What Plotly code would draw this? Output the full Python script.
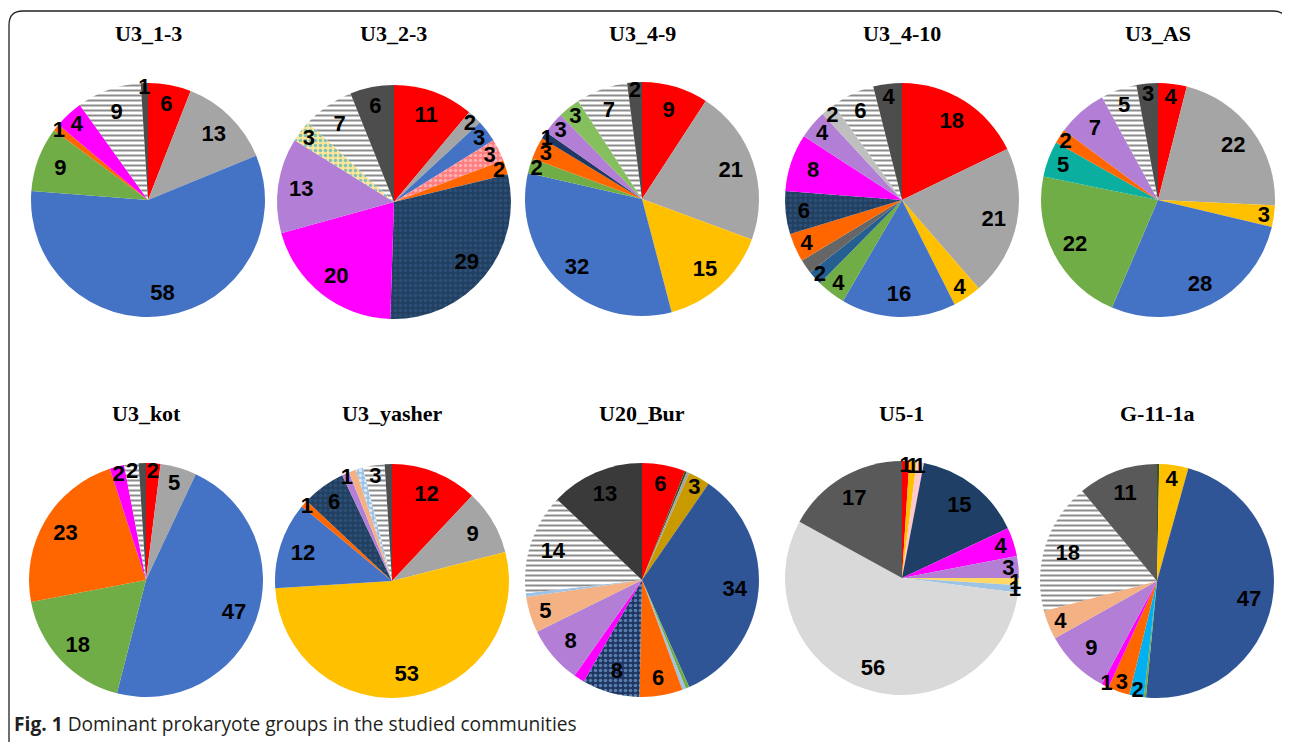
import plotly.graph_objects as go

PAGE_W, PAGE_H = 1290, 742
OFF = 8  # default page body margin
W, H = PAGE_W - OFF, PAGE_H - OFF

# ---------------- data (slices clockwise from 12 o'clock) ----------------
TITLES = ["U3_1-3", "U3_2-3", "U3_4-9", "U3_4-10", "U3_AS",
          "U3_kot", "U3_yasher", "U20_Bur", "U5-1", "G-11-1a"]

U3_1_3_groups = ["red", "gray", "blue", "green", "orange", "magenta", "stripes", "dkgray"]
U3_1_3_values = [6, 13, 58, 9, 1, 4, 9, 1]
U3_1_3_labels = ["6", "13", "58", "9", "1", "4", "9", "1"]

U3_2_3_groups = ["red", "gray", "blue", "pink_dot", "orange", "navy_dot", "magenta",
                 "purple", "ltyellow_dot", "stripes", "dkgray"]
U3_2_3_values = [11, 2, 3, 3, 2, 29, 20, 13, 3, 7, 6]
U3_2_3_labels = ["11", "2", "3", "3", "2", "29", "20", "13", "3", "7", "6"]

U3_4_9_groups = ["red", "gray", "yellow", "blue", "green", "orange", "navy", "purple",
                 "ltgreen", "stripes", "dkgray"]
U3_4_9_values = [9, 21, 15, 32, 2, 3, 1, 3, 3, 7, 2]
U3_4_9_labels = ["9", "21", "15", "32", "2", "3", "1", "3", "3", "7", "2"]

U3_4_10_groups = ["red", "gray", "yellow", "blue", "green", "dkblue", "midgray", "orange",
                  "navy_dot", "magenta", "purple", "silver", "stripes", "dkgray"]
U3_4_10_values = [18, 21, 4, 16, 4, 2, 2, 4, 6, 8, 4, 2, 6, 4]
U3_4_10_labels = ["18", "21", "4", "16", "4", "2", "", "4", "6", "8", "4", "2", "6", "4"]

U3_AS_groups = ["red", "gray", "yellow", "blue", "green", "teal", "orange", "purple",
                "stripes", "dkgray"]
U3_AS_values = [4, 22, 3, 28, 22, 5, 2, 7, 5, 3]
U3_AS_labels = ["4", "22", "3", "28", "22", "5", "2", "7", "5", "3"]

U3_kot_groups = ["red", "gray", "blue", "green", "orange", "magenta", "stripes", "dkgray"]
U3_kot_values = [2, 5, 47, 18, 23, 2, 2, 1]
U3_kot_labels = ["2", "5", "47", "18", "23", "2", "2", ""]

U3_yasher_groups = ["red", "gray", "yellow", "blue", "orange", "navy_dot", "purple", "peach",
                    "ltblue_dot", "stripes", "dkgray"]
U3_yasher_values = [12, 9, 53, 12, 1, 6, 1, 1, 1, 3, 1]
U3_yasher_labels = ["12", "9", "53", "12", "1", "6", "1", "", "", "3", ""]

U20_Bur_groups = ["red", "dkgreen", "gray", "gold", "cobalt", "green", "ltblue", "orange",
                  "navy_dot2", "magenta", "purple", "peach", "ltblue", "stripes", "charcoal"]
U20_Bur_values = [6, 0.3, 0.4, 3, 34, 0.5, 0.5, 6, 8, 1.5, 8, 5, 0.5, 14, 13]
U20_Bur_labels = ["6", "", "", "3", "34", "", "", "6", "8", "", "8", "5", "", "14", "13"]

U5_1_groups = ["red", "yellow", "ltpink", "navy5", "magenta", "purple", "ltyellow", "ltblue",
               "ltgray", "gray5"]
U5_1_values = [1, 1, 1, 15, 4, 3, 1, 1, 56, 17]
U5_1_labels = ["1", "1", "1", "15", "4", "3", "1", "1", "56", "17"]

G_11_1a_groups = ["dkgreen", "yellow", "cobalt", "green", "skyblue", "orange", "magenta",
                  "purple", "peach", "stripes", "gray5"]
G_11_1a_values = [0.3, 4, 47, 0.3, 2, 3, 1, 9, 4, 18, 11]
G_11_1a_labels = ["", "4", "47", "", "2", "3", "1", "9", "4", "18", "11"]

PIES = [
    (U3_1_3_groups, U3_1_3_values, U3_1_3_labels),
    (U3_2_3_groups, U3_2_3_values, U3_2_3_labels),
    (U3_4_9_groups, U3_4_9_values, U3_4_9_labels),
    (U3_4_10_groups, U3_4_10_values, U3_4_10_labels),
    (U3_AS_groups, U3_AS_values, U3_AS_labels),
    (U3_kot_groups, U3_kot_values, U3_kot_labels),
    (U3_yasher_groups, U3_yasher_values, U3_yasher_labels),
    (U20_Bur_groups, U20_Bur_values, U20_Bur_labels),
    (U5_1_groups, U5_1_values, U5_1_labels),
    (G_11_1a_groups, G_11_1a_values, G_11_1a_labels),
]

# ---------------- styles ----------------
STYLE = {
    "red": dict(color="#FF0000"),
    "gray": dict(color="#A5A5A5"),
    "blue": dict(color="#4472C4"),
    "green": dict(color="#70AD47"),
    "ltgreen": dict(color="#86BF5E"),
    "orange": dict(color="#FF6600"),
    "magenta": dict(color="#FF00FF"),
    "yellow": dict(color="#FFC000"),
    "purple": dict(color="#B27ED6"),
    "navy": dict(color="#203864"),
    "navy5": dict(color="#1F3F66"),
    "dkgray": dict(color="#4D4D4D"),
    "gray5": dict(color="#595959"),
    "charcoal": dict(color="#3A3A3A"),
    "midgray": dict(color="#666666"),
    "silver": dict(color="#BFBFBF"),
    "dkblue": dict(color="#255E91"),
    "teal": dict(color="#0BAFA0"),
    "peach": dict(color="#F4B183"),
    "gold": dict(color="#C89A00"),
    "cobalt": dict(color="#2F5597"),
    "ltgray": dict(color="#D9D9D9"),
    "ltblue": dict(color="#9DC3E6"),
    "skyblue": dict(color="#00B0F0"),
    "ltpink": dict(color="#FFC7CE"),
    "ltyellow": dict(color="#FFD966"),
    "dkgreen": dict(color="#375623"),
    "stripes": dict(color="#FFFFFF", shape="-", fg="#8C8C8C"),
    "navy_dot": dict(color="#223F60", shape=".", fg="#2C4F78"),
    "navy_dot2": dict(color="#1E3660", shape=".", fg="#5A7DB0"),
    "pink_dot": dict(color="#FF7C80", shape=".", fg="#FFB0B0"),
    "ltyellow_dot": dict(color="#FFE699", shape=".", fg="#7FC4B4"),
    "ltblue_dot": dict(color="#9DC3E6", shape=".", fg="#D8E8F6"),
}

# pie centres (page px) and radius
CENTERS = [(148, 200), (394, 202), (642, 199), (902, 200), (1158, 200),
           (146, 580), (392, 581), (642, 580), (902, 578), (1157, 581)]
R = 117
TITLE_Y = [34, 413]


def px(x):
    return (x - OFF) / W


def py(y):
    return 1 - (y - OFF) / H


fig = go.Figure()

for i, (groups, values, labels) in enumerate(PIES):
    cx, cy = CENTERS[i]
    dom = dict(x=[px(cx - R), px(cx + R)], y=[py(cy + R), py(cy - R)])
    colors = [STYLE[g]["color"] for g in groups]
    shapes = [STYLE[g].get("shape", "") for g in groups]
    fgs = [STYLE[g].get("fg", STYLE[g]["color"]) for g in groups]
    n = len(values)
    fig.add_trace(go.Pie(
        values=values, labels=[f"{TITLES[i]}-{k}" for k in range(n)],
        sort=False, direction="clockwise", rotation=0, domain=dom,
        marker=dict(colors=colors, line=dict(width=0),
                    pattern=dict(shape=shapes, fgcolor=fgs, bgcolor=colors,
                                 size=5, solidity=0.4)),
        textinfo="none", hoverinfo="skip", showlegend=False,
    ))
    fig.add_trace(go.Pie(
        values=values, labels=[f"{TITLES[i]}-t{k}" for k in range(n)],
        sort=False, direction="clockwise", rotation=0, domain=dom, hole=0.6,
        marker=dict(colors=["rgba(0,0,0,0)"] * n, line=dict(width=0)),
        text=labels, textinfo="text", textposition="inside",
        insidetextorientation="horizontal",
        textfont=dict(family="Liberation Sans, Arial", size=22, color="black", weight="bold"),
        hoverinfo="skip", showlegend=False,
    ))
    fig.add_annotation(
        x=px(cx), y=py(TITLE_Y[i // 5]), xref="paper", yref="paper",
        text=f"<b>{TITLES[i]}</b>", showarrow=False, xanchor="center", yanchor="middle",
        font=dict(family="Liberation Serif, Times New Roman", size=22, color="black"),
    )

# caption
fig.add_annotation(
    x=px(12), y=py(723), xref="paper", yref="paper", xanchor="left", yanchor="middle",
    text="<b>Fig. 1</b> Dominant prokaryote groups in the studied communities",
    showarrow=False, font=dict(family="Open Sans", size=19.2, color="#231F20"),
)

# frame (rounded top corners, open at bottom)
x0, x1 = px(9), px(1287)
yt, yb = py(11), -0.05
rx, ry = 14 / W, 14 / H
fig.add_shape(
    type="path", xref="paper", yref="paper",
    path=(f"M {x0},{yb} L {x0},{yt - ry} Q {x0},{yt} {x0 + rx},{yt} "
          f"L {x1 - rx},{yt} Q {x1},{yt} {x1},{yt - ry} L {x1},{yb}"),
    line=dict(color="#222222", width=1.3),
)

fig.update_layout(
    width=W, height=H, margin=dict(l=0, r=0, t=0, b=0),
    paper_bgcolor="white", plot_bgcolor="white",
    uniformtext=dict(minsize=22, mode="show"),
)

fig.write_html("out.html")
